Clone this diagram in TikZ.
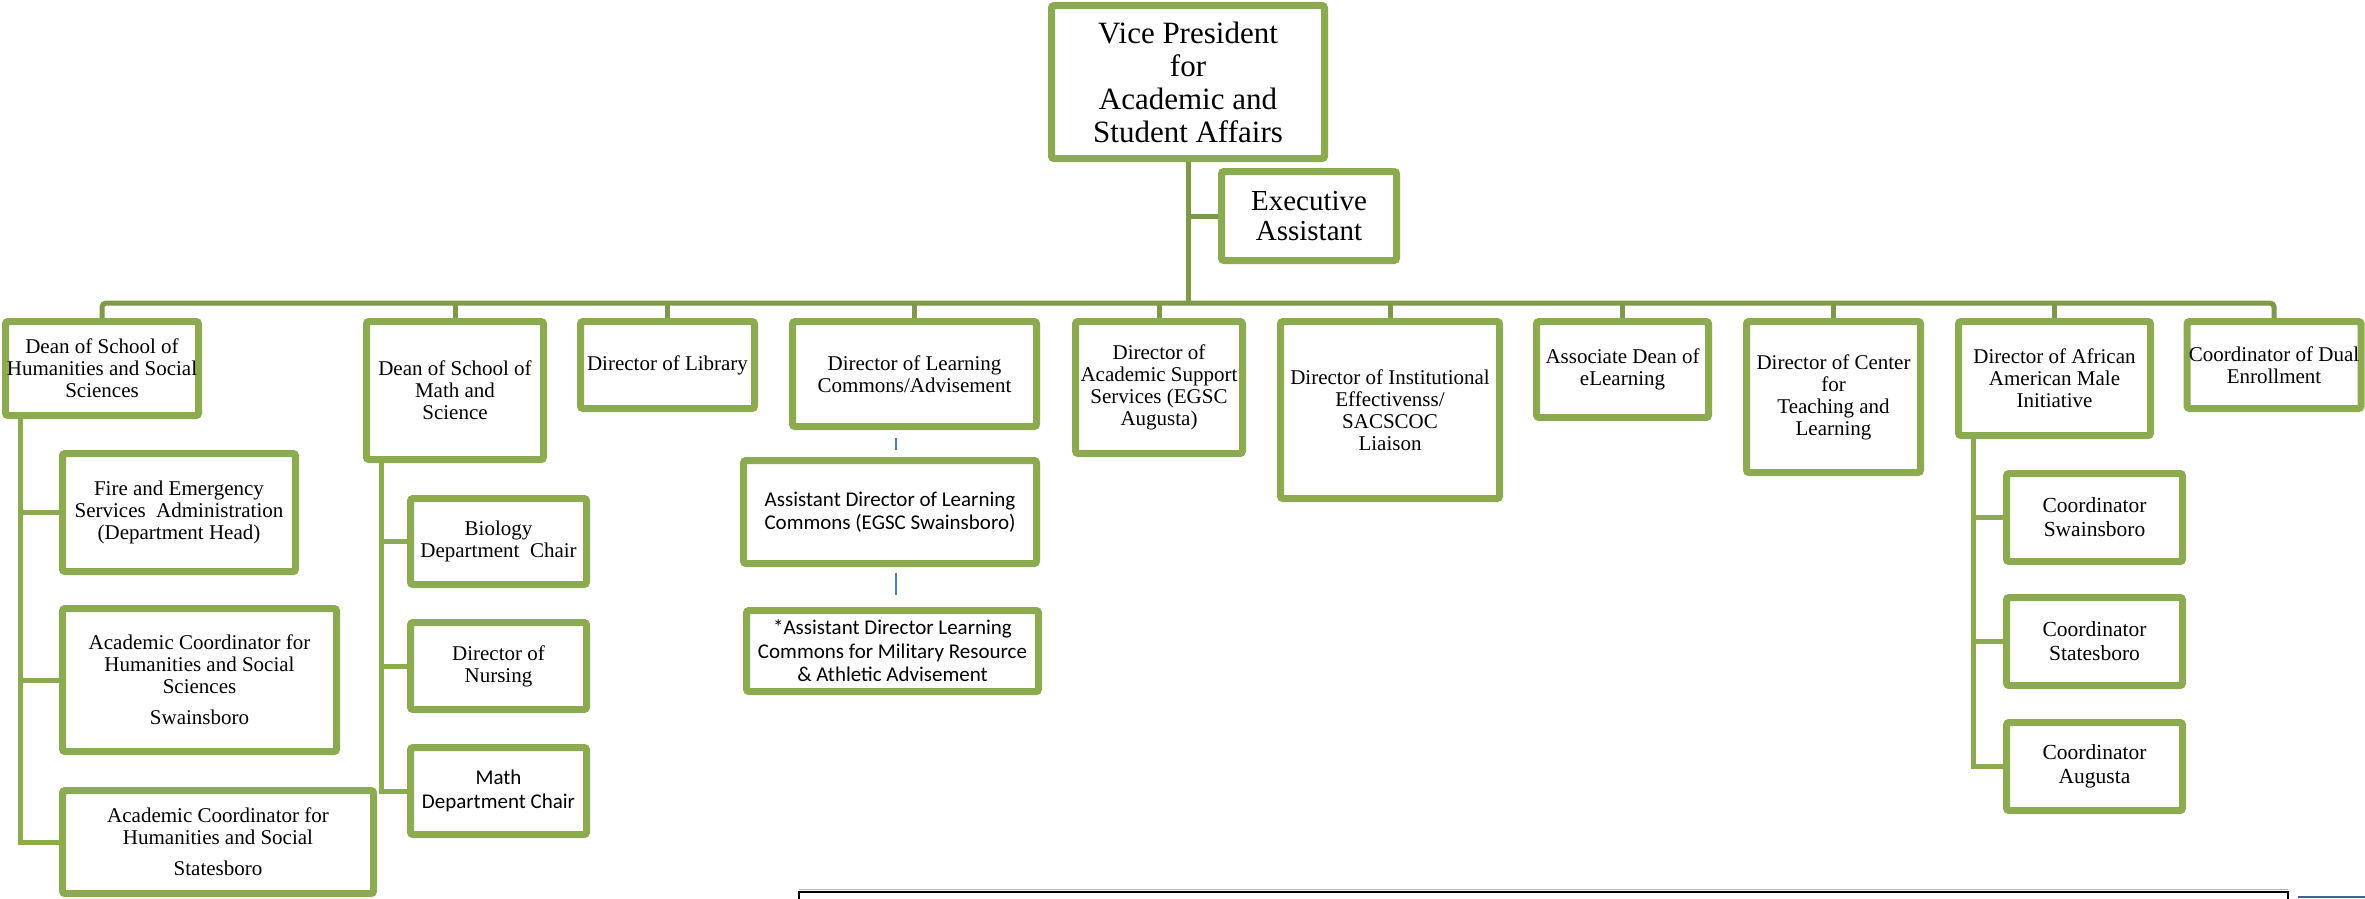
\documentclass[tikz,border=0pt]{standalone}
\usepackage{fontspec}
\setmainfont{Liberation Serif}
\newfontfamily\calfont{Carlito}
\usetikzlibrary{shadows}
\definecolor{boxgreen}{RGB}{140,170,80}
\definecolor{busgreen}{RGB}{126,154,72}
\definecolor{conblue}{RGB}{74,126,187}
\definecolor{barblue}{RGB}{60,100,160}
\begin{document}
\begin{tikzpicture}[x=1pt,y=-1pt,
  box/.style={draw=boxgreen, line width=7pt, fill=white, rounded corners=2.5pt,
    inner sep=0pt, align=center, font=\fontsize{21}{22}\selectfont,
    drop shadow={opacity=0.22, shadow xshift=1.5pt, shadow yshift=-3pt}},
  bx/.style 2 args={minimum width=#1pt-7pt, minimum height=#2pt-7pt},
  cal/.style={font=\calfont\fontsize{21}{23.5}\selectfont},
  coord/.style={font=\fontsize{21.5}{24}\selectfont},
  conn/.style={draw=busgreen, line width=5pt},
  spine/.style={draw=boxgreen, line width=5pt},
  bconn/.style={draw=conblue, line width=2pt}]
\useasboundingbox (0,0) rectangle (2365,898);

% top
\node[box, bx={280}{160}, font=\fontsize{31}{33}\selectfont] (vp) at (1188,82) {Vice President\\for\\Academic and\\Student Affairs};
\node[box, bx={182}{96}, font=\fontsize{29}{30}\selectfont] (ea) at (1309,216) {Executive\\Assistant};

% level 1
\node[box, bx={200}{101}] (dh) at (102,368.5) {Dean of School of\\Humanities and Social\\Sciences};
\node[box, bx={184}{145}] (dm) at (455,390.5) {Dean of School of\\Math and\\Science};
\node[box, bx={181}{94}] (lib) at (667.5,365) {Director of Library};
\node[box, bx={251}{112}] (lc) at (914.5,374) {Director of Learning\\Commons/Advisement};
\node[box, bx={174}{139}] (as) at (1159,387.5) {Director of\\Academic Support\\Services (EGSC\\Augusta)};
\node[box, bx={226}{184}] (ie) at (1390,410) {Director of Institutional\\Effectivenss/\\SACSCOC\\Liaison};
\node[box, bx={179}{103}] (ad) at (1622.5,369.5) {Associate Dean of\\eLearning};
\node[box, bx={181}{158}] (ctl) at (1833.5,397) {Director of Center\\for\\Teaching and\\Learning};
\node[box, bx={199}{121}] (aam) at (2054.5,378.5) {Director of African\\American Male\\Initiative};
\node[box, bx={181}{94}] (dual) at (2274,365) {Coordinator of Dual\\Enrollment};

% under humanities
\node[box, bx={240}{125}] (fire) at (179,512.5) {Fire and Emergency\\Services~ Administration\\(Department Head)};
\node[box, bx={281}{150}] (acs) at (199.5,680) {Academic Coordinator for\\Humanities and Social\\Sciences\\[9pt]Swainsboro};
\node[box, bx={318}{110}] (act) at (218,842) {Academic Coordinator for\\Humanities and Social\\[9pt]Statesboro};

% under math
\node[box, bx={183}{93}] (bio) at (498.5,541.5) {Biology\\Department~~Chair};
\node[box, bx={183}{94}] (nur) at (498.5,666) {Director of\\Nursing};
\node[box, cal, bx={183}{94}] (math) at (498.5,791) {Math\\Department Chair};

% under learning commons
\node[box, cal, bx={300}{110}] (asd) at (890,512) {Assistant Director of Learning\\Commons (EGSC Swainsboro)};
\node[box, cal, bx={299}{88}] (mil) at (892.5,651) {*Assistant Director Learning\\Commons for Military Resource\\\& Athletic Advisement};

% under african american
\node[box, coord, bx={183}{95}] (cs) at (2094.5,517.5) {Coordinator\\Swainsboro};
\node[box, coord, bx={183}{95}] (cst) at (2094.5,641.5) {Coordinator\\Statesboro};
\node[box, coord, bx={183}{95}] (cau) at (2094.5,766.5) {Coordinator\\Augusta};

% connectors
\coordinate (bus) at (0,303);
\begin{scope}[on background layer/.try]
\end{scope}
\draw[conn] (vp.south) -- (vp.south |- bus);
\draw[conn] (vp.south |- ea.west) -- (ea.west);
\draw[conn, rounded corners=4pt] (dh.north) -- (dh.north |- bus) -- (dual.north |- bus) -- (dual.north);
\foreach \n in {dm,lib,lc,as,ie,ad,ctl,aam}{
  \draw[conn] (\n.north) -- (\n.north |- bus);
}

\coordinate (hsp) at ([xshift=18.5pt]dh.south west);
\draw[spine] (hsp) |- (act.west);
\draw[spine] (hsp |- fire.west) -- (fire.west);
\draw[spine] (hsp |- acs.west) -- (acs.west);

\coordinate (msp) at ([xshift=18.5pt]dm.south west);
\draw[spine] (msp) |- (math.west);
\draw[spine] (msp |- bio.west) -- (bio.west);
\draw[spine] (msp |- nur.west) -- (nur.west);

\coordinate (asp) at ([xshift=18.5pt]aam.south west);
\draw[spine] (asp) |- (cau.west);
\draw[spine] (asp |- cs.west) -- (cs.west);
\draw[spine] (asp |- cst.west) -- (cst.west);

\draw[bconn, shorten <=7.5pt, shorten >=7.5pt] ([xshift=6pt]asd.north |- lc.south) -- ([xshift=6pt]asd.north);
\draw[bconn, shorten <=5.5pt, shorten >=12.5pt] ([xshift=6pt]asd.south) -- ([xshift=6pt]asd.south |- mil.north);

% bottom frame fragments
\draw[black!30, line width=1.5pt] (799,889.5) -- (2288,889.5);
\draw[black, line width=2.2pt] (799,900) -- (799,892) -- (2288,892) -- (2288,900);
\draw[barblue, line width=2pt] (2298,896.5) -- (2365,896.5);
\end{tikzpicture}
\end{document}
